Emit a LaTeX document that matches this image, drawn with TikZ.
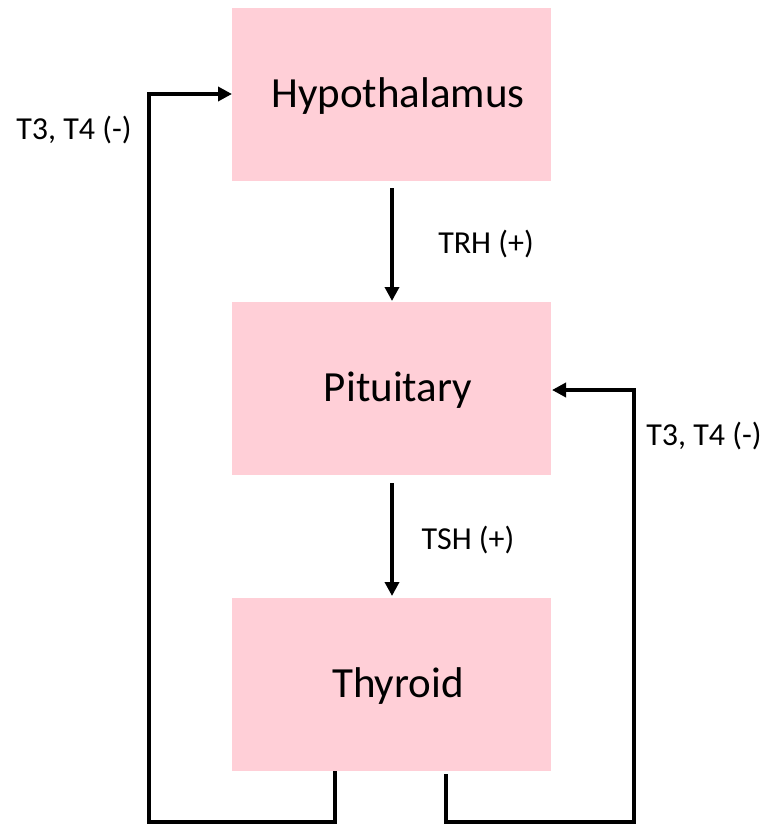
\documentclass[tikz,border=0pt]{standalone}
\usepackage{fontspec}
\setmainfont{Carlito}
\usetikzlibrary{arrows.meta}
\definecolor{boxpink}{RGB}{255,207,215}
\begin{document}
\begin{tikzpicture}[x=1pt,y=-1pt,
  organ/.style={draw=none,fill=boxpink,minimum width=319pt,minimum height=173pt,inner sep=0pt,anchor=north west},
  olabel/.style={font=\fontsize{43}{50}\selectfont},
  hlabel/.style={font=\fontsize{32}{38}\selectfont},
  conn/.style={line width=3.6pt,-{Triangle[length=14pt,width=14pt]}}]
\useasboundingbox (0,0) rectangle (774,824);
\node[organ] (hyp) at (232,8) {};
\node[organ] (pit) at (232,302) {};
\node[organ] (thy) at (232,598) {};
\node[olabel] (hypt) at (398,96) {Hypothalamus};
\node[olabel] (pitt) at (398,390) {Pituitary};
\node[olabel] (thyt) at (398,686) {Thyroid};
\coordinate (a1) at (392,188);
\coordinate (a2) at (392,301);
\draw[conn] (a1) -- (a2);
\coordinate (b1) at (392,483);
\coordinate (b2) at (392,596);
\draw[conn] (b1) -- (b2);
\node[hlabel] (trh) at (486,244) {TRH (+)};
\node[hlabel] (tsh) at (468,540) {TSH (+)};
\coordinate (l1) at (335,771);
\coordinate (l2) at (149,822);
\coordinate (l3) at (232,94);
\draw[conn,line join=miter] (l1) |- (l2) |- (l3);
\coordinate (r1) at (446,774);
\coordinate (r2) at (634,822);
\coordinate (r3) at (552,390);
\draw[conn,line join=miter] (r1) |- (r2) |- (r3);
\node[hlabel] (fl) at (74,130) {T3, T4 (-)};
\node[hlabel] (fr) at (704,436) {T3, T4 (-)};
\end{tikzpicture}
\end{document}
